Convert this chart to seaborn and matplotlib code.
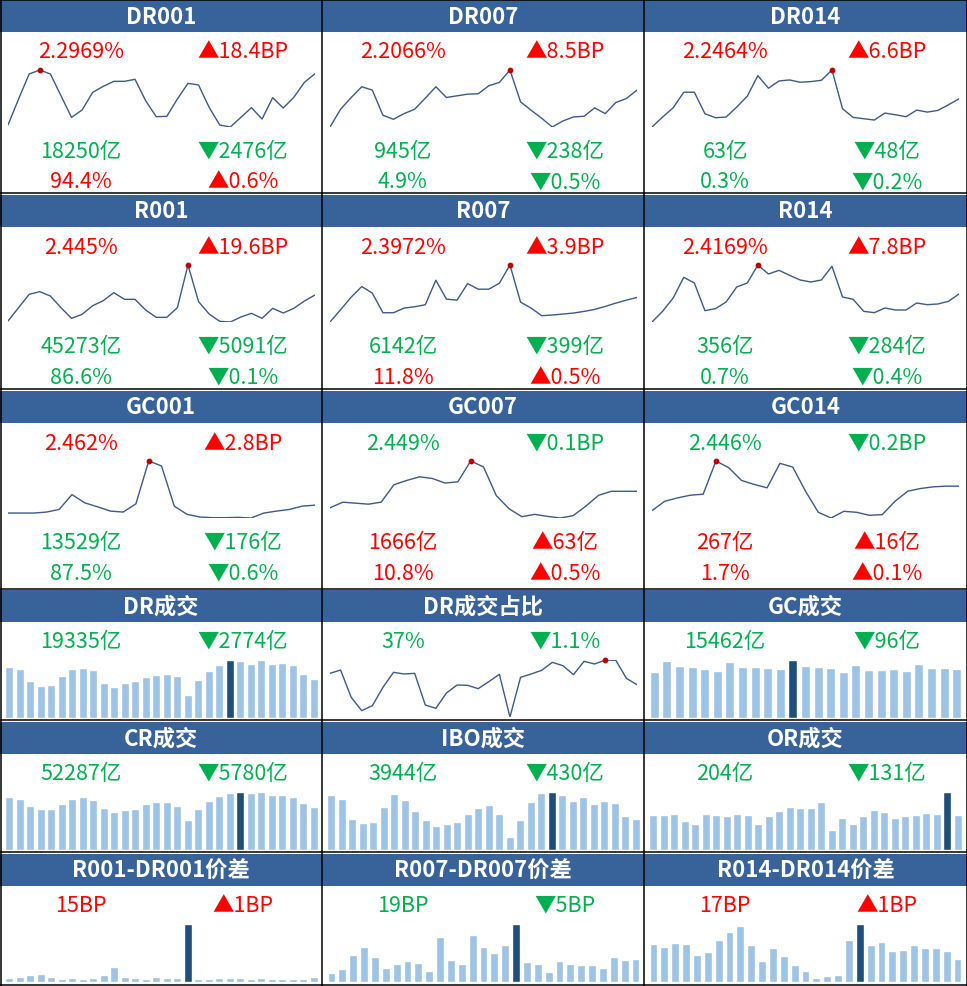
"""
资金利率与成交看板 (复刻)
"""
import matplotlib
matplotlib.use("Agg")
import matplotlib.pyplot as plt
import seaborn as sns
import numpy as np
import pandas as pd
from matplotlib.patches import Rectangle

W, H = 967, 987

# 颜色
HEAD_BLUE = "#37629A"
RED = "#FF0000"
GREEN = "#00B050"
LINE_BLUE = "#3D5A8A"
BAR_LIGHT = "#9DC3E6"
BAR_DARK = "#1F4E79"

# ---- 利率走势 (图上读取的相对高度) ----
dr001 = [22, 100, 175, 187, 175, 110, 45, 67, 120, 138, 153, 153, 159, 95, 47,
         48, 100, 147, 142, 75, 22, 16, 45, 74, 40, 104, 73, 105, 150, 176]
dr007 = [17, 70, 105, 137, 127, 52, 40, 57, 70, 103, 137, 105, 110, 115, 116,
         140, 150, 187, 92, 67, 43, 17, 35, 47, 49, 74, 57, 90, 102, 127]
dr014 = [15, 45, 73, 120, 120, 55, 43, 45, 75, 108, 170, 132, 154, 157, 150,
         152, 156, 187, 70, 44, 40, 36, 57, 52, 46, 66, 60, 65, 82, 100]
r001 = [22, 62, 102, 110, 97, 62, 30, 42, 68, 83, 107, 87, 87, 55, 33,
        33, 62, 190, 80, 43, 21, 19, 34, 45, 30, 60, 46, 60, 82, 100]
r007 = [18, 55, 93, 125, 105, 46, 46, 60, 64, 70, 144, 87, 84, 134, 117,
        117, 135, 190, 78, 60, 37, 39, 42, 45, 50, 56, 65, 75, 84, 92]
r014 = [18, 50, 90, 152, 135, 52, 58, 78, 123, 135, 189, 162, 173, 158, 144,
        138, 144, 185, 93, 86, 50, 46, 60, 54, 54, 75, 70, 72, 80, 102]
gc001 = [24, 24, 24, 27, 35, 80, 55, 43, 30, 27, 52, 182, 167, 45, 20,
         12, 10, 10, 11, 9, 24, 30, 35, 45, 48]
gc007 = [40, 57, 54, 51, 57, 110, 123, 134, 129, 115, 119, 182, 164, 77, 37,
         13, 20, 14, 9, 16, 45, 78, 90, 90, 90]
gc014 = [32, 60, 70, 78, 81, 180, 160, 122, 110, 100, 173, 162, 90, 27, 10,
         30, 27, 18, 20, 60, 90, 98, 103, 105, 105]
dr_share = [147, 157, 75, 35, 50, 105, 150, 145, 147, 52, 42, 88, 112, 111, 101,
            122, 144, 16, 135, 145, 156, 180, 170, 143, 183, 175, 187, 186, 132, 113]

# ---- 成交量 / 价差柱 (图上读取的相对高度) ----
dr_vol = [154, 147, 112, 96, 99, 126, 147, 150, 144, 105, 93, 105, 111, 123, 129,
          131, 126, 69, 114, 141, 159, 174, 172, 162, 173, 162, 165, 159, 132, 117]
gc_vol = [139, 172, 156, 153, 147, 141, 168, 153, 153, 150, 147, 174, 156, 153, 150,
          138, 159, 144, 144, 147, 141, 162, 150, 150, 147]
cr_vol = [160, 153, 132, 123, 123, 138, 153, 159, 150, 126, 114, 120, 123, 138, 144,
          144, 132, 90, 123, 147, 162, 173, 175, 172, 174, 165, 165, 159, 141, 129]
ibo_vol = [165, 153, 93, 81, 83, 129, 168, 150, 117, 90, 72, 78, 83, 108, 126,
           135, 108, 39, 90, 144, 173, 175, 165, 147, 159, 138, 147, 141, 102, 94]
or_vol = [105, 105, 108, 87, 78, 108, 105, 102, 108, 105, 78, 102, 117, 129, 126,
          126, 144, 60, 96, 78, 102, 120, 114, 96, 102, 105, 111, 108, 174, 105]
spread_001 = [13, 15, 20, 23, 15, 9, 11, 9, 12, 21, 44, 15, 11, 9, 15,
              12, 12, 173, 10, 9, 12, 12, 12, 9, 12, 9, 9, 9, 9, 15]
spread_007 = [27, 38, 81, 104, 74, 41, 53, 62, 56, 32, 135, 65, 53, 140, 104,
              86, 110, 173, 59, 53, 29, 62, 53, 50, 50, 41, 74, 65, 68]
spread_014 = [113, 104, 116, 113, 80, 89, 125, 149, 168, 110, 62, 101, 77, 51, 32,
              11, 17, 20, 125, 173, 110, 119, 92, 95, 110, 101, 101, 92, 68]

# ---- 上面九格的文字 ----
rate_names = ["DR001", "DR007", "DR014", "R001", "R007", "R014", "GC001", "GC007", "GC014"]
rate_last = ["2.2969", "2.2066", "2.2464", "2.445", "2.3972", "2.4169", "2.462", "2.449", "2.446"]
rate_chg_bp = [18.4, 8.5, 6.6, 19.6, 3.9, 7.8, 2.8, -0.1, -0.2]
vol_last = [18250, 945, 63, 45273, 6142, 356, 13529, 1666, 267]
vol_chg = [-2476, -238, -48, -5091, -399, -284, -176, 63, 16]
share_last = [94.4, 4.9, 0.3, 86.6, 11.8, 0.7, 87.5, 10.8, 1.7]
share_chg = [0.6, -0.5, -0.2, -0.1, 0.5, -0.4, -0.6, 0.5, 0.1]
rate_series = [dr001, dr007, dr014, r001, r007, r014, gc001, gc007, gc014]

# ---- 下面九格的文字 ----
low_names = ["DR成交", "DR成交占比", "GC成交", "CR成交", "IBO成交", "OR成交",
             "R001-DR001价差", "R007-DR007价差", "R014-DR014价差"]
low_last = ["19335亿", "37%", "15462亿", "52287亿", "3944亿", "204亿", "15BP", "19BP", "17BP"]
low_chg = [-2774, -1.1, -96, -5780, -430, -131, 1, -5, 1]
low_unit = ["亿", "%", "亿", "亿", "亿", "亿", "BP", "BP", "BP"]
low_series = [dr_vol, dr_share, gc_vol, cr_vol, ibo_vol, or_vol, spread_001, spread_007, spread_014]
low_kind = ["bar", "line", "bar", "bar", "bar", "bar", "bar", "bar", "bar"]

# ---- 版面 (像素) ----
COLS = [0, 322, 644, 967]
ROW_TOP = [1, 196, 392, 591, 723, 855]
ROW_BOTTOM = [194, 390, 590, 721, 853, 986]
HEADER_H = 32

sns.set_theme(style="white")
plt.rcParams['font.family'] = ['Noto Sans CJK SC', 'DejaVu Sans']

fig = plt.figure(figsize=(W / 100, H / 100), dpi=100)
bg = fig.add_axes([0, 0, 1, 1])
bg.set_xlim(0, W)
bg.set_ylim(H, 0)
bg.axis("off")


def px_axes(x, y, w, h):
    ax = fig.add_axes([x / W, 1 - (y + h) / H, w / W, h / H])
    ax.patch.set_alpha(0)
    ax.axis("off")
    return ax


def arrow_text(v, unit):
    mark = "▲" if v > 0 else "▼"
    return f"{mark}{abs(v):g}{unit}"


def col_of(v):
    return RED if v > 0 else GREEN


def sparkline(x0, y0, values):
    ax = px_axes(x0 + 8, y0, 307, 57)
    df = pd.DataFrame({"t": range(len(values)), "v": values})
    sns.lineplot(data=df, x="t", y="v", ax=ax, color=LINE_BLUE, lw=1.0)
    k = int(np.argmax(values))
    ax.scatter([k], [values[k]], s=10, color="#C00000", zorder=3, clip_on=False)
    ax.set_xlim(0, len(values) - 1)
    ax.set_ylim(min(values), max(values))
    ax.axis("off")


def barline(x0, y0, values):
    ax = px_axes(x0 + 4, y0, 315, 58)
    k = int(np.argmax(values))
    idx = list(range(len(values)))
    pal = [BAR_DARK if i == k else BAR_LIGHT for i in idx]
    sns.barplot(x=idx, y=values, hue=idx, palette=pal, legend=False,
                width=0.72, ax=ax, saturation=1)
    ax.set_xlim(-0.5, len(values) - 0.5)
    ax.set_ylim(0, max(values))
    ax.axis("off")


def header(r, c, title):
    x0, x1 = COLS[c], COLS[c + 1]
    top = ROW_TOP[r]
    bg.add_patch(Rectangle((x0, top), x1 - x0, HEADER_H, color=HEAD_BLUE, lw=0))
    bg.text((x0 + x1) / 2, top + HEADER_H / 2, title, color="white",
            fontsize=16, fontweight="bold", ha="center", va="center")


FS = 15.5

# 上面三行
for i, name in enumerate(rate_names):
    r, c = divmod(i, 3)
    x0, x1 = COLS[c], COLS[c + 1]
    top = ROW_TOP[r]
    header(r, c, name)
    xl, xr = x0 + 81, x0 + 243
    cc = col_of(rate_chg_bp[i])
    bg.text(xl, top + 51.5, rate_last[i] + "%", color=cc, fontsize=FS, ha="center", va="center")
    bg.text(xr, top + 51.5, arrow_text(rate_chg_bp[i], "BP"), color=cc, fontsize=FS,
            ha="center", va="center")
    cc = col_of(vol_chg[i])
    bg.text(xl, top + 151, f"{vol_last[i]}亿", color=cc, fontsize=FS, ha="center", va="center")
    bg.text(xr, top + 151, arrow_text(vol_chg[i], "亿"), color=cc, fontsize=FS,
            ha="center", va="center")
    cc = col_of(share_chg[i])
    bg.text(xl, top + 181.5, f"{share_last[i]}%", color=cc, fontsize=FS, ha="center", va="center")
    bg.text(xr, top + 181.5, arrow_text(share_chg[i], "%"), color=cc, fontsize=FS,
            ha="center", va="center")
    sparkline(x0, top + 70, rate_series[i])

# 下面三行
for i, name in enumerate(low_names):
    r, c = divmod(i, 3)
    r += 3
    x0, x1 = COLS[c], COLS[c + 1]
    top = ROW_TOP[r]
    header(r, c, name)
    cc = col_of(low_chg[i])
    bg.text(x0 + 81, top + 51, low_last[i], color=cc, fontsize=FS, ha="center", va="center")
    bg.text(x0 + 243, top + 51, arrow_text(low_chg[i], low_unit[i]), color=cc, fontsize=FS,
            ha="center", va="center")
    if low_kind[i] == "line":
        sparkline(x0, top + 70, low_series[i])
    else:
        barline(x0, top + 70, low_series[i])

# 边框
for x in [0.5, 322, 644, 966.5]:
    bg.plot([x, x], [0, H], color="black", lw=1.1, solid_capstyle="butt")
for y in [0.5] + ROW_BOTTOM:
    bg.plot([0, W], [y, y], color="black", lw=1.1, solid_capstyle="butt")

fig.savefig("out.png", dpi=100)
